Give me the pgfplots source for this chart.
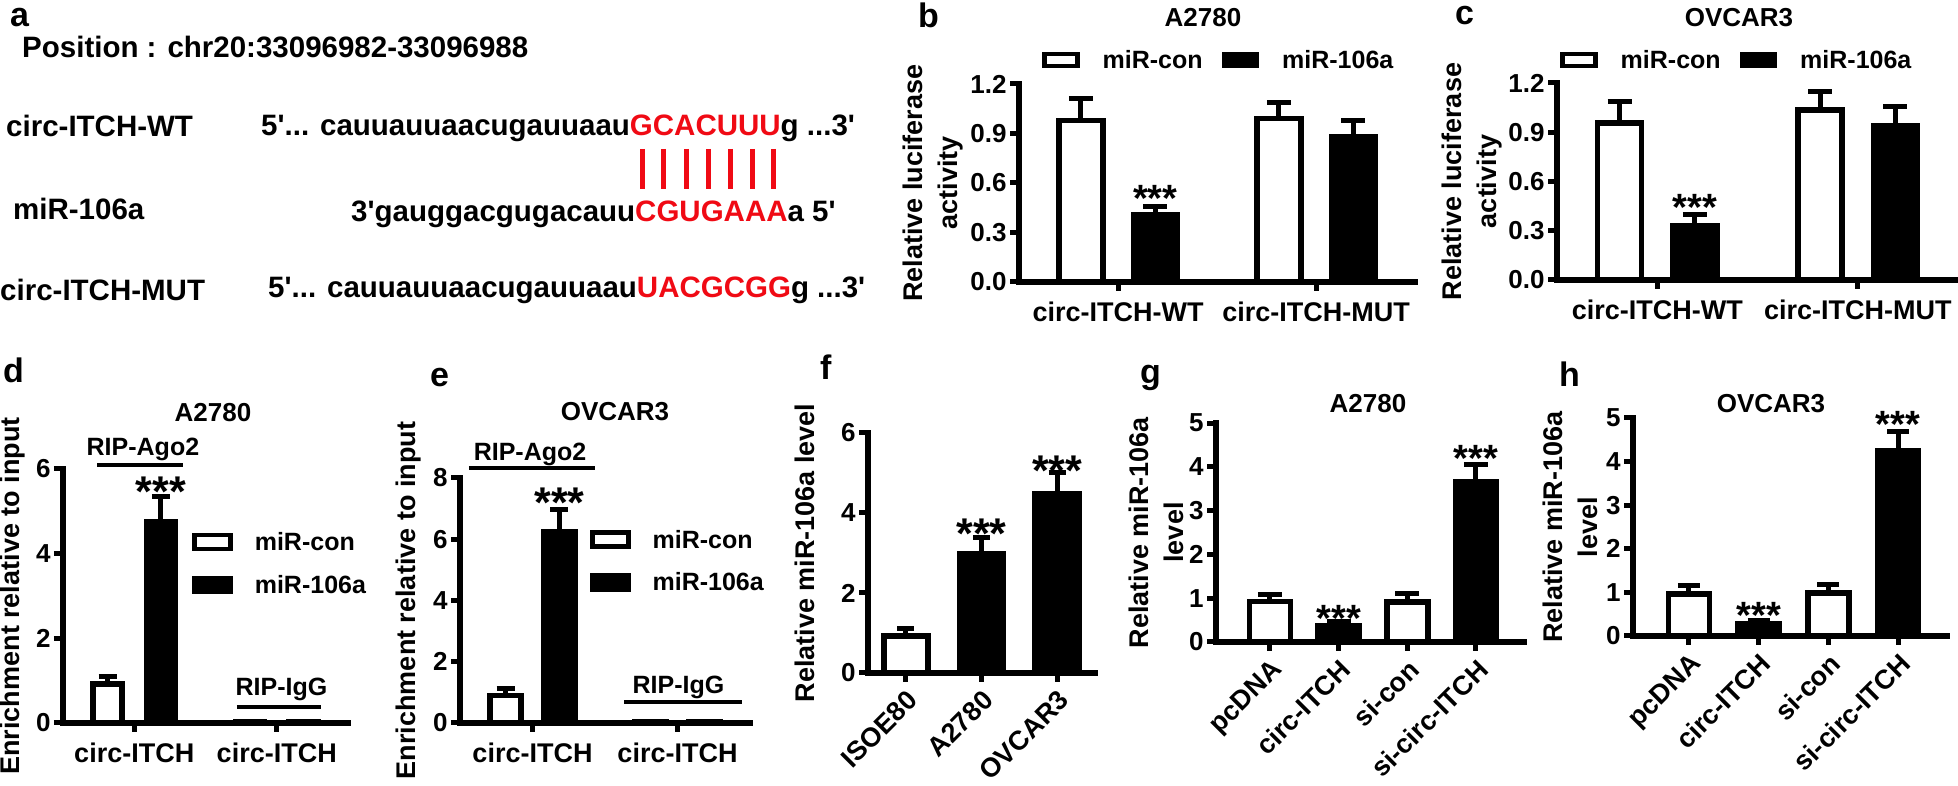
\documentclass[border=0pt]{standalone}
\usepackage{fontspec}
\setmainfont{Liberation Sans}
\usepackage{pgfplots}
\pgfplotsset{compat=1.18}
\definecolor{seqred}{RGB}{240,10,20}
\newcommand{\fA}{\bfseries\fontsize{29.5}{30}\selectfont}
\newcommand{\fL}{\bfseries\fontsize{34}{34}\selectfont}
\newcommand{\fT}{\bfseries\fontsize{26}{26}\selectfont}
\newcommand{\fR}{\bfseries\fontsize{25}{25}\selectfont}
\pgfplotsset{
  prism/.style={
    scale only axis, clip=false, anchor=south west,
    axis x line*=bottom, axis y line*=left,
    axis line style={line width=5.5pt, black, -, line cap=rect},
    tick align=outside, major tick length=9pt,
    tick style={line width=5pt, black},
    minor tick num=0, ymin=0,
    /pgf/number format/assume math mode=true,
    tick label style={font=\bfseries\fontsize{26}{26}\selectfont, black},
    xticklabel style={font=\bfseries\fontsize{27}{27}\selectfont},
    ylabel style={font=\bfseries\fontsize{27}{35}\selectfont, align=center, anchor=center},
    ybar,
    error bars/y dir=plus, error bars/y explicit,
    error bars/error bar style={line width=5pt, black},
    legend cell align=left,
  },
  flatlab/.style={xticklabel style={yshift=-7pt}},
  rotlab/.style={xticklabel style={yshift=-2pt, rotate=45, anchor=north east}},
  wbar/.style={fill=white, draw=black, line width=5.5pt},
  bbar/.style={fill=black, draw=black, line width=5.5pt},
  caps/.style={error bars/error mark options={rotate=90, line width=5pt, black, mark size=#1}},
  hleg/.style={legend columns=2,
    legend style={draw=none, fill=none, inner sep=0pt, font=\fR,
      /tikz/every odd column/.append style={column sep=21pt},
      /tikz/every even column/.append style={column sep=17pt}},
    legend image code/.code={\draw[##1,line width=4.5pt] (0pt,-6pt) rectangle (33pt,6pt);}},
  vleg/.style={legend columns=1,
    legend style={draw=none, fill=none, inner sep=0pt, font=\fR, row sep=19pt,
      /tikz/every odd column/.append style={column sep=20pt}},
    legend image code/.code={\draw[##1,line width=4.5pt] (0pt,-7pt) rectangle (36pt,7pt);}},
}
\tikzset{t/.style={inner sep=0pt}, sig/.style={anchor=base, inner sep=0pt, font=\bfseries\fontsize{38}{38}\selectfont},
  sigb/.style={anchor=base, inner sep=0pt, font=\bfseries\fontsize{43}{43}\selectfont}}
\begin{document}
\begin{tikzpicture}[x=1pt,y=1pt]
\useasboundingbox (0pt,0pt) rectangle (1958pt,786pt);
% ---------- panel letters ----------
\node[t,anchor=base west,font=\fL] at (10pt,759pt) {a};
\node[t,anchor=base west,font=\fL] at (918pt,758pt) {b};
\node[t,anchor=base west,font=\fL] at (1455pt,761pt) {c};
\node[t,anchor=base west,font=\fL] at (3pt,403pt) {d};
\node[t,anchor=base west,font=\fL] at (430pt,399pt) {e};
\node[t,anchor=base west,font=\fL] at (820pt,406pt) {f};
\node[t,anchor=base west,font=\fL] at (1140pt,402pt) {g};
\node[t,anchor=base west,font=\fL] at (1559pt,399pt) {h};
% ---------- panel a ----------
\node[t,anchor=base west,font=\fA] at (22pt,728pt) {Position : chr20:33096982-33096988};
\node[t,anchor=base west,font=\fA] at (6pt,649pt) {circ-ITCH-WT};
\node[t,anchor=base west,font=\fA] at (13pt,566pt) {miR-106a};
\node[t,anchor=base west,font=\fA] at (0pt,485pt) {circ-ITCH-MUT};
\node[t,anchor=base west,font=\fA] at (261pt,650pt) {5\textquotesingle... cauuauuaacugauuaau\textcolor{seqred}{GCACUUU}g ...3\textquotesingle};
\node[t,anchor=base west,font=\fA] at (351pt,564pt) {3\textquotesingle{}gauggacgugacauu\textcolor{seqred}{CGUGAAA}a 5\textquotesingle};
\node[t,anchor=base west,font=\fA] at (268pt,488pt) {5\textquotesingle... cauuauuaacugauuaau\textcolor{seqred}{UACGCGG}g ...3\textquotesingle};
\foreach \x in {642,663,686,708,730,752,773} \draw[seqred,line width=5pt] (\x pt,637pt) -- (\x pt,597pt);
% ---------- titles ----------
\node[t,anchor=base,font=\fT] at (1203pt,759pt) {A2780};
\node[t,anchor=base,font=\fT] at (1739pt,759pt) {OVCAR3};
\node[t,anchor=base,font=\fT] at (213pt,364pt) {A2780};
\node[t,anchor=base,font=\fT] at (615pt,365pt) {OVCAR3};
\node[t,anchor=base,font=\fT] at (1368pt,373pt) {A2780};
\node[t,anchor=base,font=\fT] at (1771pt,373pt) {OVCAR3};
% ---------- panel b ----------
\begin{axis}[prism, flatlab, caps=12pt, hleg,
  at={(1019pt,504pt)}, width=396pt, height=198pt,
  xmin=-0.5, xmax=1.5, ymax=1.2, xtick={0,1}, xticklabels={circ-ITCH-WT,circ-ITCH-MUT},
  ytick={0,0.3,0.6,0.9,1.2}, yticklabel style={/pgf/number format/.cd,fixed,fixed zerofill,precision=1},
  bar width=0.222, ylabel={Relative luciferase\\activity}, ylabel style={at={(rel axis cs:-0.218,0.5)}},
  legend style={at={(0.058,1.121)}, anchor=west}]
\addplot[wbar, bar shift=-0.188] coordinates {(0,0.98) +- (0,0.13) (1,0.99) +- (0,0.10)};
\addplot[bbar, bar shift=0.188] coordinates {(0,0.405) +- (0,0.055) (1,0.88) +- (0,0.10)};
\legend{miR-con,miR-106a}
\node[sig] at (axis cs:0.188,0.43) {***};
\end{axis}
% ---------- panel c ----------
\begin{axis}[prism, flatlab, caps=12pt, hleg,
  at={(1557pt,506pt)}, width=401pt, height=197pt,
  xmin=-0.5, xmax=1.5, ymax=1.2, xtick={0,1}, xticklabels={circ-ITCH-WT,circ-ITCH-MUT},
  ytick={0,0.3,0.6,0.9,1.2}, yticklabel style={/pgf/number format/.cd,fixed,fixed zerofill,precision=1},
  bar width=0.22, ylabel={Relative luciferase\\activity}, ylabel style={at={(rel axis cs:-0.213,0.5)}},
  legend style={at={(0.0075,1.117)}, anchor=west}]
\addplot[wbar, bar shift=-0.1875] coordinates {(0,0.955) +- (0,0.135) (1,1.035) +- (0,0.113)};
\addplot[bbar, bar shift=0.1875] coordinates {(0,0.333) +- (0,0.067) (1,0.94) +- (0,0.117)};
\legend{miR-con,miR-106a}
\node[sig] at (axis cs:0.1875,0.36) {***};
\end{axis}
% ---------- panel d ----------
\begin{axis}[prism, flatlab, caps=9pt, vleg,
  at={(63pt,63pt)}, width=285pt, height=254pt,
  xmin=-0.5, xmax=1.5, ymax=6, xtick={0,1}, xticklabels={circ-ITCH,circ-ITCH},
  ytick={0,2,4,6}, bar width=0.204,
  ylabel={Enrichment relative to input}, ylabel style={at={(rel axis cs:-0.177,0.5)}},
  legend style={at={(0.453,0.628)}, anchor=west}]
\addplot[wbar, bar shift=-0.187] coordinates {(0,0.92) +- (0,0.17) (1,0.03) +- (0,0.01)};
\addplot[bbar, bar shift=0.187] coordinates {(0,4.76) +- (0,0.59) (1,0.03) +- (0,0.01)};
\legend{miR-con,miR-106a}
\node[sigb] at (axis cs:0.187,5.12) {***};
\node[t,anchor=base,font=\fR] at (axis cs:0.061,6.31) {RIP-Ago2};
\draw[line width=4pt] (axis cs:-0.261,6.10) -- (axis cs:0.342,6.10);
\node[t,anchor=base,font=\fR] at (axis cs:1.033,0.64) {RIP-IgG};
\draw[line width=4pt] (axis cs:0.721,0.378) -- (axis cs:1.31,0.378);
\end{axis}
% ---------- panel e ----------
\begin{axis}[prism, flatlab, caps=9pt, vleg,
  at={(460pt,63pt)}, width=290pt, height=245pt,
  xmin=-0.5, xmax=1.5, ymax=8, xtick={0,1}, xticklabels={circ-ITCH,circ-ITCH},
  ytick={0,2,4,6,8}, bar width=0.214,
  ylabel={Enrichment relative to input}, ylabel style={at={(rel axis cs:-0.176,0.5)}},
  legend style={at={(0.448,0.661)}, anchor=west}]
\addplot[wbar, bar shift=-0.186] coordinates {(0,0.90) +- (0,0.23) (1,0.03) +- (0,0.01)};
\addplot[bbar, bar shift=0.186] coordinates {(0,6.25) +- (0,0.73) (1,0.03) +- (0,0.01)};
\legend{miR-con,miR-106a}
\node[sigb] at (axis cs:0.186,6.70) {***};
\node[t,anchor=base,font=\fR] at (axis cs:-0.017,8.56) {RIP-Ago2};
\draw[line width=4pt] (axis cs:-0.438,8.33) -- (axis cs:0.431,8.33);
\node[t,anchor=base,font=\fR] at (axis cs:1.007,0.95) {RIP-IgG};
\draw[line width=4pt] (axis cs:0.631,0.686) -- (axis cs:1.445,0.686);
\end{axis}
% ---------- panel f ----------
\begin{axis}[prism, rotlab, caps=8.5pt,
  at={(868pt,113pt)}, width=227pt, height=240pt,
  xmin=-0.5, xmax=2.5, ymax=6, xtick={0,1,2}, xticklabels={ISOE80,A2780,OVCAR3},
  ytick={0,2,4,6}, bar width=0.58,
  ylabel={Relative miR-106a level}, ylabel style={at={(rel axis cs:-0.278,0.5)}}]
\addplot[wbar, bar shift=0] coordinates {(0,0.93) +- (0,0.19)};
\addplot[bbar, bar shift=0] coordinates {(1,2.97) +- (0,0.41) (2,4.47) +- (0,0.53)};
\node[sigb] at (axis cs:1,3.12) {***};
\node[sigb] at (axis cs:2,4.69) {***};
\end{axis}
% ---------- panel g ----------
\begin{axis}[prism, rotlab, caps=12pt,
  at={(1216pt,144pt)}, width=308pt, height=219pt,
  xmin=-0.786, xmax=3.70, ymax=5, xtick={0,1,2,3}, xticklabels={pcDNA,circ-ITCH,si-con,si-circ-ITCH},
  ytick={0,1,2,3,4,5}, bar width=0.597,
  ylabel={Relative miR-106a\\level}, ylabel style={at={(rel axis cs:-0.195,0.5)}}]
\addplot[wbar, bar shift=0] coordinates {(0,0.93) +- (0,0.16) (2,0.91) +- (0,0.20)};
\addplot[bbar, bar shift=0] coordinates {(1,0.36) +- (0,0.10) (3,3.65) +- (0,0.41)};
\node[sig] at (axis cs:1,0.23) {***};
\node[sig] at (axis cs:3,3.90) {***};
\end{axis}
% ---------- panel h ----------
\begin{axis}[prism, rotlab, caps=11pt,
  at={(1633pt,150pt)}, width=314pt, height=218pt,
  xmin=-0.80, xmax=3.70, ymax=5, xtick={0,1,2,3}, xticklabels={pcDNA,circ-ITCH,si-con,si-circ-ITCH},
  ytick={0,1,2,3,4,5}, bar width=0.588,
  ylabel={Relative miR-106a\\level}, ylabel style={at={(rel axis cs:-0.2,0.5)}}]
\addplot[wbar, bar shift=0] coordinates {(0,0.96) +- (0,0.19) (2,0.99) +- (0,0.18)};
\addplot[bbar, bar shift=0] coordinates {(1,0.27) +- (0,0.08) (3,4.24) +- (0,0.46)};
\node[sig] at (axis cs:1,0.17) {***};
\node[sig] at (axis cs:3,4.55) {***};
\end{axis}
\end{tikzpicture}
\end{document}
